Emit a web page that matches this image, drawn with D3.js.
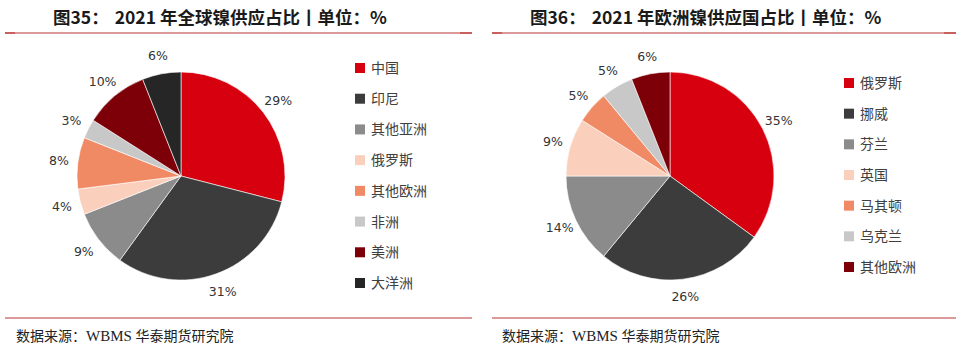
<!DOCTYPE html>
<html><head><meta charset="utf-8">
<script src="https://cdn.jsdelivr.net/npm/d3@7"></script>
<style>
html,body{margin:0;padding:0;background:#fff;}
svg{display:block;}
</style></head>
<body>
<svg id="c" width="963" height="355"></svg>
<script>
const leftTitleNo = "图35：";
const leftTitle = "2021 年全球镍供应占比丨单位：%";
const leftCats = ["中国","印尼","其他亚洲","俄罗斯","其他欧洲","非洲","美洲","大洋洲"];
const leftVals = [29,31,9,4,8,3,10,6];
const leftColors = ["#d7000f","#3c3c3c","#8b8b8b","#fad0bd","#f08a64","#c8c8c8","#7d0009","#262626"];

const rightTitleNo = "图36：";
const rightTitle = "2021 年欧洲镍供应国占比丨单位：%";
const rightCats = ["俄罗斯","挪威","芬兰","英国","马其顿","乌克兰","其他欧洲"];
const rightVals = [35,26,14,9,5,5,6];
const rightColors = ["#d7000f","#3c3c3c","#8b8b8b","#fad0bd","#f08a64","#c8c8c8","#7d0009"];

const sourceText = "数据来源：";
const sourceOrg = "WBMS";
const sourceRest = "华泰期货研究院";

const svg = d3.select("#c");
const cjk = "'Noto Sans CJK SC','Noto Sans',sans-serif";

function panel(cfg){
  const g = svg.append("g");
  [33,318].forEach(y=>{
    g.append("line").attr("x1",cfg.x0).attr("x2",cfg.x1).attr("y1",y).attr("y2",y)
      .attr("stroke","#dc9999").attr("stroke-width",2);
  });
  g.append("line").attr("x1",cfg.x0).attr("x2",cfg.x0+10).attr("y1",33).attr("y2",33)
    .attr("stroke","#c86060").attr("stroke-width",2);
  g.append("line").attr("x1",cfg.x1-12).attr("x2",cfg.x1).attr("y1",33).attr("y2",33)
    .attr("stroke","#c86060").attr("stroke-width",2);
  const t = g.append("text").attr("x",cfg.tx).attr("y",24)
    .attr("font-family",cjk).attr("font-weight","bold").attr("font-size",17.5).attr("fill","#1a1a1a");
  t.append("tspan").text(cfg.no);
  t.append("tspan").attr("dx",6).text(cfg.title);
  const s = g.append("text").attr("x",cfg.sx).attr("y",341)
    .attr("font-size",14).attr("fill","#222");
  s.append("tspan").attr("font-family",cjk).text(sourceText);
  s.append("tspan").attr("font-family","'Liberation Serif',serif").attr("font-size",15).text(sourceOrg+" ");
  s.append("tspan").attr("font-family",cjk).text(sourceRest);

  const pie = d3.pie().sort(null).value(d=>d.v);
  const arcs = pie(cfg.cats.map((c,i)=>({c, v:cfg.vals[i], col:cfg.colors[i]})));
  const arc = d3.arc().innerRadius(0).outerRadius(cfg.r);
  const lab = d3.arc().innerRadius(cfg.lr).outerRadius(cfg.lr);
  const pg = g.append("g").attr("transform",`translate(${cfg.cx},${cfg.cy})`);
  pg.selectAll("path").data(arcs).join("path")
    .attr("d",arc).attr("fill",d=>d.data.col).attr("stroke","#fff").attr("stroke-width",0.6);
  pg.selectAll("text").data(arcs).join("text")
    .attr("transform",d=>`translate(${lab.centroid(d)})`)
    .attr("text-anchor","middle").attr("dy","0.35em")
    .attr("font-family","'DejaVu Sans',sans-serif").attr("font-size",12.5).attr("fill","#333")
    .text(d=>d.data.v+"%");

  const y = d3.scalePoint().domain(cfg.cats).range([cfg.ly0, cfg.ly1]);
  const lg = g.append("g");
  cfg.cats.forEach((c,i)=>{
    lg.append("rect").attr("x",cfg.lx).attr("y",y(c)-5).attr("width",10).attr("height",10).attr("fill",cfg.colors[i]);
    lg.append("text").attr("x",cfg.lx+16).attr("y",y(c)).attr("dy","0.36em")
      .attr("font-family",cjk).attr("font-size",14).attr("fill","#404040").text(c);
  });
}

panel({x0:5,x1:472,tx:53,sx:16,no:leftTitleNo,title:leftTitle,cats:leftCats,vals:leftVals,colors:leftColors,
  cx:181,cy:176,r:104,lr:123,lx:355,ly0:68,ly1:283});
panel({x0:492,x1:956,tx:530,sx:502,no:rightTitleNo,title:rightTitle,cats:rightCats,vals:rightVals,colors:rightColors,
  cx:670,cy:176,r:104,lr:122,lx:844,ly0:83,ly1:267});
</script>
</body></html>
